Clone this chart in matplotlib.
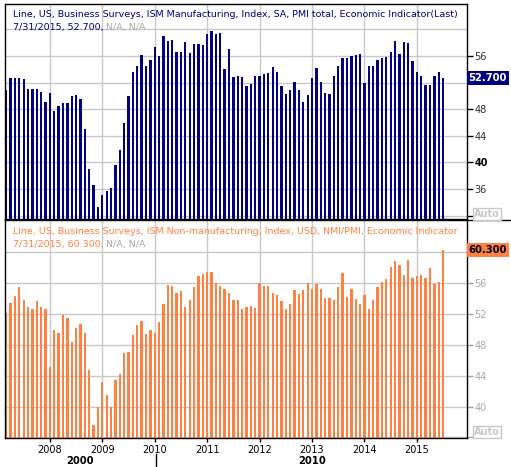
import matplotlib
matplotlib.use("Agg")
import matplotlib.pyplot as plt
import matplotlib.transforms as mtransforms
from matplotlib.lines import Line2D
import numpy as np

plt.rcParams['font.family'] = ['DejaVu Sans']

# ---------------- data (monthly, Mar 2007 .. Jul 2015) ----------------
start_month_index = 2  # months since Jan 2007 (Mar 2007)
mfg = [50.9, 52.7, 52.7, 52.7, 52.5, 51.0, 51.1, 51.1, 50.6, 49.1,
       50.4, 47.7, 48.5, 48.9, 48.9, 50.0, 50.1, 49.5, 45.0, 39.0, 36.6, 33.3,
       35.1, 35.7, 36.1, 39.6, 41.9, 45.9, 50.0, 53.6, 54.5, 56.2, 54.5, 55.4,
       57.4, 56.0, 59.0, 58.3, 58.4, 56.6, 56.6, 58.1, 56.5, 57.8, 57.8, 57.7,
       59.3, 59.8, 59.3, 59.5, 54.0, 57.1, 52.8, 53.0, 52.8, 51.5, 51.8, 53.0,
       53.0, 53.3, 53.5, 54.3, 53.6, 51.5, 50.3, 50.9, 52.1, 50.9, 49.1, 50.1,
       52.7, 54.2, 52.1, 50.4, 50.3, 53.0, 54.5, 55.7, 55.7, 56.0, 56.2, 56.3,
       51.9, 54.5, 54.5, 55.4, 55.7, 55.8, 56.6, 58.3, 56.3, 58.1, 57.9, 55.2,
       53.6, 53.0, 51.6, 51.6, 53.0, 53.6, 52.7]
nmi = [52.1, 53.4, 54.3, 55.5, 53.8, 52.9, 52.7, 53.7, 52.9, 52.7,
       45.1, 50.0, 49.5, 51.9, 51.5, 48.4, 50.2, 50.7, 49.5, 44.7, 37.6, 40.0,
       43.2, 41.5, 40.0, 43.4, 44.2, 46.9, 47.1, 49.3, 50.6, 51.1, 49.4, 50.0,
       49.6, 51.0, 53.3, 55.8, 55.6, 54.7, 55.0, 52.9, 53.8, 55.5, 56.9, 57.2,
       57.5, 57.5, 56.0, 55.6, 55.3, 54.7, 53.8, 53.8, 52.7, 52.9, 53.0, 52.8,
       56.0, 55.6, 55.6, 54.7, 54.5, 53.7, 52.7, 53.3, 55.1, 54.6, 55.1, 56.0,
       55.3, 55.9, 55.3, 54.1, 54.1, 53.8, 55.5, 57.3, 54.2, 55.3, 53.9, 53.3,
       54.5, 52.7, 53.8, 55.5, 56.2, 56.6, 58.1, 58.9, 58.4, 57.1, 59.0, 56.7,
       56.9, 57.1, 56.7, 58.0, 55.9, 56.2, 60.3]
years = [2008, 2009, 2010, 2011, 2012, 2013, 2014, 2015]
decade_labels = ["2000", "2010"]
top_title = "Line, US, Business Surveys, ISM Manufacturing, Index, SA, PMI total, Economic Indicator(Last)"
top_sub = "7/31/2015, 52.700, "
bot_title = "Line, US, Business Surveys, ISM Non-manufacturing, Index, USD, NMI/PMI, Economic Indicator"
bot_sub = "7/31/2015, 60.300, "
na_text = "N/A, N/A"
top_last_label = "52.700"
bot_last_label = "60.300"
top_ticks = [32, 36, 40, 44, 48, 52, 56]
top_tick_labels = ["", "36", "40", "44", "48", "", "56"]
bot_ticks = [36, 40, 44, 48, 52, 56, 60]
bot_tick_labels = ["", "40", "44", "48", "52", "56", ""]

NAVY = "#000080"
ORANGE = "#FF8040"
GRID = "#C8C8C8"
GRAY_TXT = "#A8A8A8"

W, H = 511, 467
fig = plt.figure(figsize=(W / 100, H / 100), dpi=100)
fig.patch.set_facecolor("white")

def fr(x0, y_top, x1, y_bot):
    return [x0 / W, 1 - y_bot / H, (x1 - x0) / W, (y_bot - y_top) / H]

ax1 = fig.add_axes(fr(5, 4, 467, 219))
ax2 = fig.add_axes(fr(5, 220, 467, 438))

x = np.arange(len(mfg)) + start_month_index
year_pos = [(y - 2007) * 12 for y in years]
xlim = (1.725, 107.47)

for ax, vals, color, ylim, yticks, ylabels in [
    (ax1, mfg, NAVY, (31.49, 63.82), top_ticks, top_tick_labels),
    (ax2, nmi, ORANGE, (35.91, 64.22), bot_ticks, bot_tick_labels),
]:
    ax.set_facecolor("white")
    ax.bar(x, vals, width=0.53, color=color, zorder=2, linewidth=0)
    ax.set_xlim(*xlim)
    ax.set_ylim(*ylim)
    for yv in range(32, 64, 4):
        if ylim[0] < yv < ylim[1]:
            ax.axhline(yv, color=GRID, lw=1.0, zorder=1)
    for xp in year_pos:
        ax.axvline(xp, color=GRID, lw=1.0, zorder=1)
    ax.yaxis.tick_right()
    ax.set_yticks(yticks)
    ax.set_yticklabels(ylabels)
    for s in ax.spines.values():
        s.set_color("black")
        s.set_linewidth(1.0)
    ax.tick_params(axis="y", direction="out", length=4, width=1, pad=1.5, labelsize=7)

# top panel y tick styles
ax1.tick_params(axis="y", colors="black", labelcolor="#303030")
for lbl in ax1.get_yticklabels():
    if lbl.get_text() == "40":
        lbl.set_fontweight("bold")
        lbl.set_color("black")
ax2.tick_params(axis="y", colors="#A0A0A0", labelcolor=GRAY_TXT)

# x ticks
ax1.set_xticks(year_pos)
ax1.set_xticklabels([])
ax1.tick_params(axis="x", direction="out", length=2, colors="#A0A0A0")
ax2.set_xticks(year_pos)
ax2.set_xticklabels([str(y) for y in years])
ax2.tick_params(axis="x", direction="out", length=3, width=1, colors="black", labelsize=7, pad=2)

# titles inside panels
def panel_title(ax, line1, line2, color, y1_px, y2_px, top_px):
    h = ax.bbox.height
    ax.text((12.7 - 5) / 462, 1 - (y1_px - top_px) / h, line1,
            transform=ax.transAxes, color=color, fontsize=6.8, va="center", ha="left",
            clip_on=True, zorder=5)
    b = ax.text((12.7 - 5) / 462, 1 - (y2_px - top_px) / h, line2,
                transform=ax.transAxes, color=color, fontsize=6.8, va="center", ha="left",
                clip_on=True, zorder=5)
    ax.annotate(na_text, xy=(1, 0.5), xycoords=b, va="center", ha="left",
                color=GRAY_TXT, fontsize=6.8, zorder=5)

panel_title(ax1, top_title, top_sub, NAVY, 14.5, 27.0, 4)
panel_title(ax2, bot_title, bot_sub, ORANGE, 231.0, 245.0, 220)

# last-value boxes on the right axis
for ax, val, lbl, fc, tc in [(ax1, mfg[-1], top_last_label, NAVY, "white"),
                             (ax2, nmi[-1], bot_last_label, ORANGE, "black")]:
    tr = mtransforms.blended_transform_factory(ax.transAxes, ax.transData)
    ax.text(1.0 + 1.5 / 462, val, lbl, transform=tr, ha="left", va="center",
            color=tc, fontsize=7.2, fontweight="bold", clip_on=False, zorder=6,
            bbox=dict(boxstyle="square,pad=0.18", fc=fc, ec="none"))

# "Auto" boxes
for yc in [214, 432]:
    fig.text(487 / W, 1 - yc / H, "Auto", ha="center", va="center", fontsize=7,
             fontweight="bold", color="#C8C8C8",
             bbox=dict(boxstyle="square,pad=0.12", fc="white", ec="#C8C8C8", lw=1))

# separator line between panels extending to the right edge
fig.add_artist(Line2D([467 / W, 1.0], [1 - 219.5 / H, 1 - 219.5 / H], color="black", lw=1.0))

# decade labels
fig.text(80 / W, 1 - 461.5 / H, decade_labels[0], ha="center", va="center",
         fontsize=7.2, fontweight="bold", color="black")
fig.text(312 / W, 1 - 461.5 / H, decade_labels[1], ha="center", va="center",
         fontsize=7.2, fontweight="bold", color="black")
fig.add_artist(Line2D([155.5 / W, 155.5 / W], [1 - 454 / H, 1 - 467 / H], color="black", lw=1.0))

fig.savefig("out.png", dpi=100, facecolor="white")
